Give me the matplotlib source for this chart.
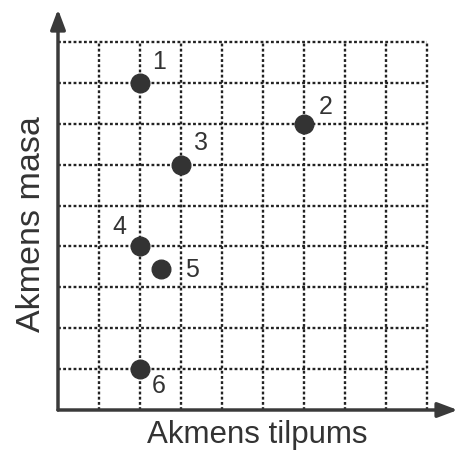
import matplotlib
matplotlib.use("Agg")
from matplotlib import pyplot as plt

plt.rcParams['font.family'] = ['Liberation Sans', 'DejaVu Sans']

labels = ['1', '2', '3', '4', '5', '6']
tilpums = [2, 6, 3, 2, 2.5, 2]
masa = [8, 7, 6, 4, 3.45, 1]
# label offsets in pixels (dx, dy), y up
offs = [(19, 21), (22, 17), (20, 22), (-21, 19), (31, -1), (19, -17)]

fig = plt.figure(figsize=(4.6, 4.54), dpi=100)
ax = fig.add_axes([58/460, 44/454, 369/460, 368/454])
ax.set_xlim(0, 9)
ax.set_ylim(0, 9)

# dotted grid
for i in range(1, 10):
    ax.axvline(i, color='#222222', ls=(0, (1.2, 1.0)), lw=1.7, zorder=1, clip_on=False)
    ax.axhline(i, color='#222222', ls=(0, (1.2, 1.0)), lw=1.7, zorder=1, clip_on=False)

for s in ax.spines.values():
    s.set_visible(False)
ax.set_xticks([])
ax.set_yticks([])

# axes with arrows
ax.annotate('', xy=(9.75, 0), xytext=(0, 0), xycoords='data',
            arrowprops=dict(arrowstyle='-|>,head_length=1.2,head_width=0.45',
                            color='#3a3a3a', lw=2.5, shrinkA=0, shrinkB=0),
            annotation_clip=False)
ax.annotate('', xy=(0, 9.8), xytext=(0, 0), xycoords='data',
            arrowprops=dict(arrowstyle='-|>,head_length=1.2,head_width=0.45',
                            color='#3a3a3a', lw=2.5, shrinkA=0, shrinkB=0),
            annotation_clip=False)

ax.scatter(tilpums, masa, s=180, color='#333333', zorder=3, clip_on=False)
for lab, x, y, (dx, dy) in zip(labels, tilpums, masa, offs):
    ax.annotate(lab, (x, y), xytext=(dx*0.72, dy*0.72), textcoords='offset points',
                ha='center', va='center', fontsize=18, color='#333333')

fig.text(257/460, 1 - 435/454, 'Akmens tilpums', ha='center', va='center',
         fontsize=22.5, color='#333333')
fig.text(32/460, 1 - 224/454, 'Akmens masa', ha='center', va='center',
         rotation=90, fontsize=24.5, color='#333333')

fig.savefig('out.png', dpi=100)
